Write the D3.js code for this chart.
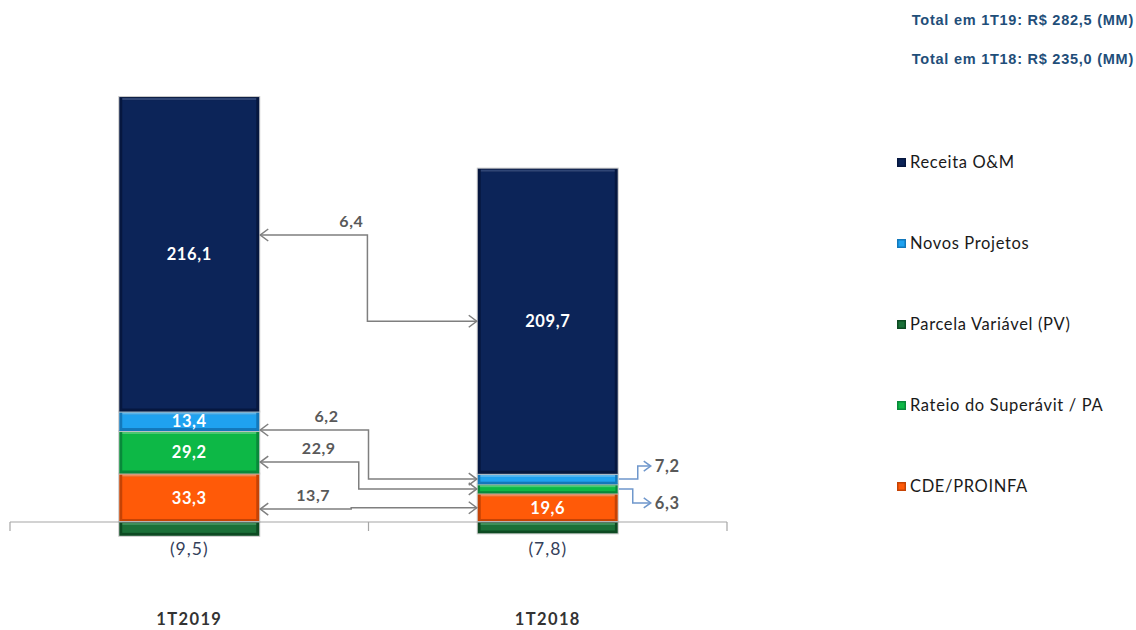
<!DOCTYPE html>
<html><head><meta charset="utf-8">
<script src="https://cdn.jsdelivr.net/npm/d3@7"></script>
<style>body{margin:0;background:#fff}svg{display:block}</style>
</head><body>
<svg id="c" width="1136" height="630"></svg>
<script>
// ---- data ----
const categories = ["1T2019", "1T2018"];
const seriesKeys = ["cde", "rateio", "novos", "receita", "pv"];
const seriesNames = {
  receita: "Receita O&M", novos: "Novos Projetos", pv: "Parcela Variável (PV)",
  rateio: "Rateio do Superávit / PA", cde: "CDE/PROINFA"
};
const receita = [216.1, 209.7];
const novos = [13.4, 7.2];
const rateio = [29.2, 6.3];
const cde = [33.3, 19.6];
const pv = [-9.5, -7.8];
const totals = ["Total em 1T19: R$ 282,5 (MM)", "Total em 1T18: R$ 235,0 (MM)"];
const legendOrder = ["receita", "novos", "pv", "rateio", "cde"];
// variation arrows between periods: label, series, level on left bar (value units)
const deltaLabels = ["6,4", "6,2", "22,9", "13,7"];
const deltaSeries = ["receita", "novos", "rateio", "cde"];
const deltaLeftLevel = [197.2, 63.2, 41.2, 8.9];

// ---- styles/layout ----
const colors = {
  receita: {base: "#0c2458", edge: "#06173f", hi: "#3b5385"},
  novos: {base: "#1fa2f0", edge: "#1378bb", hi: "#6cc6fa"},
  rateio: {base: "#0db846", edge: "#08893a", hi: "#5ad880"},
  cde: {base: "#ff5a08", edge: "#c54305", hi: "#ff9a60"},
  pv: {base: "#1b7038", edge: "#0d4a22", hi: "#4aa068"}
};
const turnFrac = [0.495, 0.5, 0.455, 0.42];
const labelDX = [-16, -42, -40, -38];
const FONT = "Lato, 'Open Sans', sans-serif";

const svg = d3.select("#c");
const table = categories.map((c, i) => ({cat: c, receita: receita[i], novos: novos[i], rateio: rateio[i], cde: cde[i], pv: pv[i]}));
const stack = d3.stack().keys(seriesKeys).offset(d3.stackOffsetDiverging);
const stacked = stack(table);

const x = d3.scaleBand().domain(categories).range([10, 727]);
const y = d3.scaleLinear().domain([-20, 300]).range([551.1, 85.4]);
const barW = 140;
const bx = c => x(c) + x.bandwidth() / 2 - barW / 2;
const fmt = v => Math.abs(v).toFixed(1).replace(".", ",");

// bars
stacked.forEach(s => {
  const col = colors[s.key];
  const g = svg.append("g");
  s.forEach((d, i) => {
    const cat = categories[i];
    const x0 = bx(cat), y0 = y(Math.max(d[0], d[1])), y1 = y(Math.min(d[0], d[1]));
    const h = y1 - y0;
    g.append("rect").attr("x", x0 - 0.5).attr("y", y0 - 0.5).attr("width", barW + 1).attr("height", h + 1).attr("fill", "none").attr("stroke", "#c8c8c8").attr("stroke-width", 1);
    g.append("rect").attr("x", x0).attr("y", y0).attr("width", barW).attr("height", h).attr("fill", col.edge);
    const ins = Math.min(3, h / 4);
    g.append("rect").attr("x", x0 + ins).attr("y", y0 + ins).attr("width", barW - 2 * ins).attr("height", Math.max(0, h - 2 * ins)).attr("fill", col.base);
    g.append("rect").attr("x", x0 + ins).attr("y", y0 + 1).attr("width", barW - 2 * ins).attr("height", Math.min(2, h / 5)).attr("fill", col.hi).attr("opacity", 0.8);
  });
});

// axis line with ticks at band edges
const axisY = y(0);
svg.append("line").attr("x1", x.range()[0]).attr("x2", x.range()[1]).attr("y1", axisY).attr("y2", axisY).attr("stroke", "#a6a6a6").attr("stroke-width", 1.2);
const tickXs = categories.map(c => x(c)).concat([x.range()[1]]);
tickXs.forEach(t => svg.append("line").attr("x1", t).attr("x2", t).attr("y1", axisY).attr("y2", axisY + 9).attr("stroke", "#a6a6a6").attr("stroke-width", 1.2));

// inside labels
const inside = {receita: [true, true], novos: [true, false], rateio: [true, false], cde: [true, true]};
stacked.forEach(s => {
  if (s.key === "pv") return;
  s.forEach((d, i) => {
    if (!inside[s.key][i]) return;
    const cat = categories[i];
    svg.append("text").attr("x", x(cat) + x.bandwidth() / 2).attr("y", y((d[0] + d[1]) / 2))
      .attr("dy", "0.35em").attr("text-anchor", "middle").attr("fill", "#fff")
      .attr("font-family", FONT).attr("font-weight", "bold").attr("font-size", 16.5).attr("letter-spacing", 0.6)
      .text(fmt(d.data[s.key]));
  });
});

// negative labels below axis
table.forEach(d => {
  svg.append("text").attr("x", x(d.cat) + x.bandwidth() / 2).attr("y", 549).attr("dy", "0.35em")
    .attr("text-anchor", "middle").attr("fill", "#34405a").attr("font-family", FONT).attr("font-size", 17.5).attr("letter-spacing", 1)
    .text("(" + fmt(d.pv) + ")");
});
// category labels
categories.forEach(c => {
  svg.append("text").attr("x", x(c) + x.bandwidth() / 2).attr("y", 619).attr("dy", "0.35em")
    .attr("text-anchor", "middle").attr("fill", "#333").attr("font-family", FONT).attr("font-weight", "bold").attr("font-size", 16.5).attr("letter-spacing", 1.4)
    .text(c);
});

function chevron(g, px, py, dir, color) {
  const s = 8 * dir;
  g.append("path").attr("d", `M${px - s},${py - 6}L${px},${py}L${px - s},${py + 6}`)
    .attr("fill", "none").attr("stroke", color).attr("stroke-width", 1.5);
}

// gray delta arrows
const mid = (key, i) => { const s = stacked.find(t => t.key === key)[i]; return (s[0] + s[1]) / 2; };
const leftX = bx(categories[0]) + barW + 1, rightX = bx(categories[1]) - 1;
deltaLabels.forEach((lab, k) => {
  const yl = y(deltaLeftLevel[k]), yr = y(mid(deltaSeries[k], 1));
  const xt = leftX + (rightX - leftX) * turnFrac[k];
  const g = svg.append("g");
  g.append("path").attr("d", `M${leftX},${yl}H${xt}V${yr}H${rightX}`).attr("fill", "none").attr("stroke", "#7f7f7f").attr("stroke-width", 1.5);
  chevron(g, leftX, yl, -1, "#7f7f7f");
  chevron(g, rightX, yr, 1, "#7f7f7f");
  g.append("text").attr("x", xt + labelDX[k]).attr("y", yl - 8).attr("text-anchor", "middle")
    .attr("fill", "#595959").attr("font-family", FONT).attr("font-weight", "bold").attr("font-size", 16).attr("letter-spacing", 0.6).text(lab);
});

// outside labels for small segments in 1T2018
const outside = [{key: "novos", dy: -13, turn: 19}, {key: "rateio", dy: 14, turn: 14}];
outside.forEach(o => {
  const i = 1;
  const x0 = bx(categories[i]) + barW + 1;
  const ys = y(mid(o.key, i)), ye = ys + o.dy;
  const g = svg.append("g");
  const xe = x0 + 32;
  g.append("path").attr("d", `M${x0},${ys}H${x0 + o.turn}V${ye}H${xe}`).attr("fill", "none").attr("stroke", "#6f97cc").attr("stroke-width", 1.5);
  g.append("path").attr("d", `M${xe - 7},${ye - 5}L${xe},${ye}L${xe - 7},${ye + 5}`).attr("fill", "none").attr("stroke", "#6f97cc").attr("stroke-width", 1.5);
  g.append("text").attr("x", xe + 4).attr("y", ye).attr("dy", "0.35em").attr("fill", "#595959")
    .attr("font-family", FONT).attr("font-weight", "bold").attr("font-size", 16.5).attr("letter-spacing", 0.6).text(fmt(table[i][o.key]));
});

// totals
totals.forEach((t, i) => {
  svg.append("text").attr("x", 1134).attr("y", 20 + i * 39).attr("dy", "0.35em").attr("text-anchor", "end")
    .attr("fill", "#1f4e79").attr("font-family", "'Liberation Sans', Arial, sans-serif").attr("font-weight", "bold").attr("font-size", 14.5).attr("letter-spacing", 0.75)
    .text(t);
});

// legend
legendOrder.forEach((k, i) => {
  const ly = 162 + i * 81;
  const col = colors[k];
  svg.append("rect").attr("x", 897).attr("y", ly - 4).attr("width", 9).attr("height", 9).attr("fill", col.edge);
  svg.append("rect").attr("x", 898.5).attr("y", ly - 2.5).attr("width", 6).attr("height", 6).attr("fill", col.base);
  svg.append("text").attr("x", 910).attr("y", ly).attr("dy", "0.35em").attr("fill", "#1a1a1a")
    .attr("font-family", FONT).attr("font-size", 16.5).attr("letter-spacing", 0.65).text(seriesNames[k]);
});
</script>
</body></html>
